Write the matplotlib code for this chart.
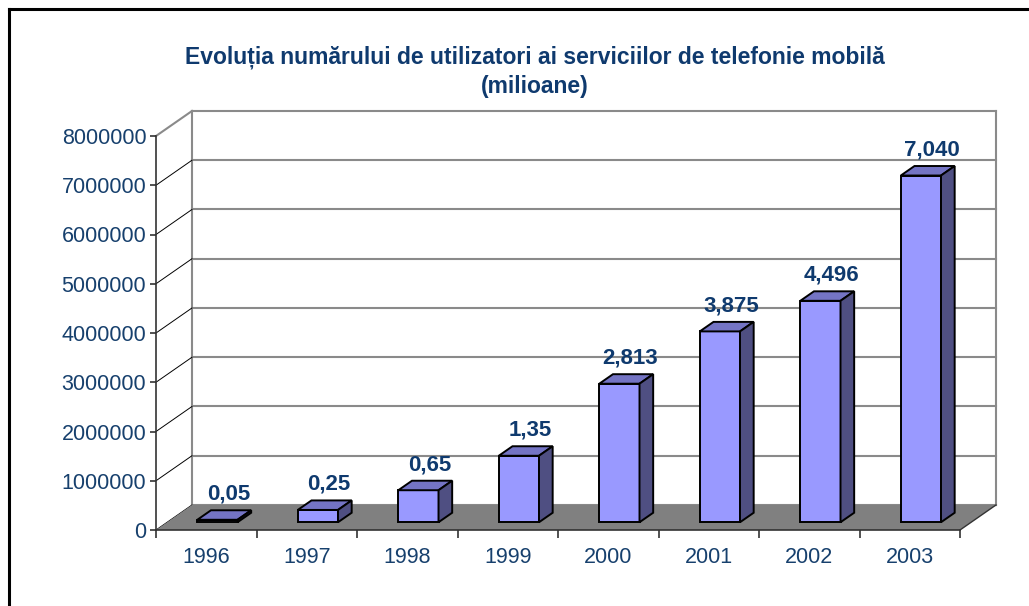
"""
Evolutia numarului de utilizatori ai serviciilor de telefonie mobila
Excel-style 3D column chart redone with plain matplotlib patches.
"""
import matplotlib
matplotlib.use("Agg")
import matplotlib.pyplot as plt
from matplotlib.patches import Polygon, Rectangle
from matplotlib.lines import Line2D
from matplotlib.ticker import FuncFormatter

plt.rcParams['font.family'] = ['Liberation Sans', 'DejaVu Sans']

# data
years = ["1996", "1997", "1998", "1999", "2000", "2001", "2002", "2003"]
users = [50000, 250000, 650000, 1350000, 2813000, 3875000, 4496000, 7040000]
value_labels = ["0,05", "0,25", "0,65", "1,35", "2,813", "3,875", "4,496", "7,040"]
y_ticks = [0, 1000000, 2000000, 3000000, 4000000, 5000000, 6000000, 7000000, 8000000]

# look
TEXT_BLUE = "#0f3a6e"
TICK_BLUE = "#17406d"
FRONT = "#9999ff"
TOP = "#7474c4"
SIDE = "#4f4f82"
FLOOR = "#808080"
GRID = "#8a8a8a"

# depth of the 3D box, in data units
DX = 0.358
DY = 508000
BAR_W = 0.4
A, B = 0.31, 0.69      # bar front / back as fraction of the depth
YMAX = y_ticks[-1]
n = len(years)

fig = plt.figure(figsize=(10.29, 6.06), dpi=100)
ax = fig.add_axes([156 / 1029, 1 - 530 / 606, 804 / 1029, 394 / 606])
ax.set_xlim(-0.5, n - 0.5)
ax.set_ylim(0, YMAX)
ax.patch.set_visible(False)

x0, x1 = -0.5, n - 0.5

# back wall grid
for v in y_ticks:
    ax.add_line(Line2D([x0 + DX, x1 + DX], [v + DY, v + DY], color=GRID,
                       lw=1.5, clip_on=False, zorder=1))
for xe in (x0 + DX, x1 + DX):
    ax.add_line(Line2D([xe, xe], [DY, YMAX + DY], color=GRID, lw=1.5,
                       clip_on=False, zorder=1))

# left wall diagonals
for v in y_ticks:
    top = v == YMAX
    ax.add_line(Line2D([x0, x0 + DX], [v, v + DY],
                       color=GRID if top else "black",
                       lw=1.5 if top else 0.7, clip_on=False, zorder=1))

# floor
ax.add_patch(Polygon([(x0, 0), (x1, 0), (x1 + DX, DY), (x0 + DX, DY)],
                     closed=True, facecolor=FLOOR, edgecolor="none",
                     clip_on=False, zorder=2))
ax.add_line(Line2D([x1, x1 + DX], [0, DY], color="#333333", lw=1.0,
                   clip_on=False, zorder=2))

# bars
for i, v in enumerate(users):
    l, r = i - BAR_W / 2, i + BAR_W / 2
    fa, fb = A * DX, B * DX
    ya, yb = A * DY, B * DY
    kw = dict(edgecolor="black", lw=1.4, joinstyle="miter",
              clip_on=False, zorder=3)
    ax.add_patch(Rectangle((l + fa, ya), BAR_W, v, facecolor=FRONT, **kw))
    ax.add_patch(Polygon([(l + fa, ya + v), (r + fa, ya + v),
                          (r + fb, yb + v), (l + fb, yb + v)],
                         closed=True, facecolor=TOP, **kw))
    ax.add_patch(Polygon([(r + fa, ya), (r + fb, yb),
                          (r + fb, yb + v), (r + fa, ya + v)],
                         closed=True, facecolor=SIDE, **kw))
    ax.annotate(value_labels[i], (i + 0.5 * DX, v + B * DY),
                xytext=(3, 4), textcoords="offset points",
                ha="center", va="bottom", fontsize=16, fontweight="bold",
                color=TEXT_BLUE, zorder=4, annotation_clip=False)

# front axes
for side in ("top", "right"):
    ax.spines[side].set_visible(False)
for side in ("left", "bottom"):
    ax.spines[side].set_color("#333333")
    ax.spines[side].set_linewidth(1.2)
    ax.spines[side].set_zorder(5)

ax.set_yticks(y_ticks)
ax.yaxis.set_major_formatter(FuncFormatter(lambda v, p: "%d" % v))
ax.tick_params(axis="y", direction="out", length=4, width=1.2,
               color="#333333", labelsize=15.5, labelcolor=TICK_BLUE, pad=3)

ax.set_xticks([k - 0.5 for k in range(n + 1)])
ax.set_xticklabels([])
ax.set_xticks(range(n), minor=True)
ax.set_xticklabels(years, minor=True)
ax.tick_params(axis="x", which="major", direction="out", length=6,
               width=1.2, color="#333333")
ax.tick_params(axis="x", which="minor", length=0, labelsize=15.5,
               labelcolor=TICK_BLUE, pad=12)

fig.text(535 / 1029, 1 - 57 / 606,
         "Evoluția numărului de utilizatori ai serviciilor de telefonie mobilă",
         ha="center", va="center", fontsize=16.5, fontweight="bold",
         color=TEXT_BLUE)
fig.text(535 / 1029, 1 - 86 / 606, "(milioane)", ha="center", va="center",
         fontsize=16.5, fontweight="bold", color=TEXT_BLUE)

# chart area border (only left and top fall inside the picture)
fig.add_artist(Line2D([9 / 1029, 9 / 1029], [0, 1 - 9 / 606],
                      transform=fig.transFigure, color="black", lw=2.2))
fig.add_artist(Line2D([9 / 1029, 1], [1 - 9 / 606, 1 - 9 / 606],
                      transform=fig.transFigure, color="black", lw=2.2))

fig.savefig("out.png", dpi=100)
